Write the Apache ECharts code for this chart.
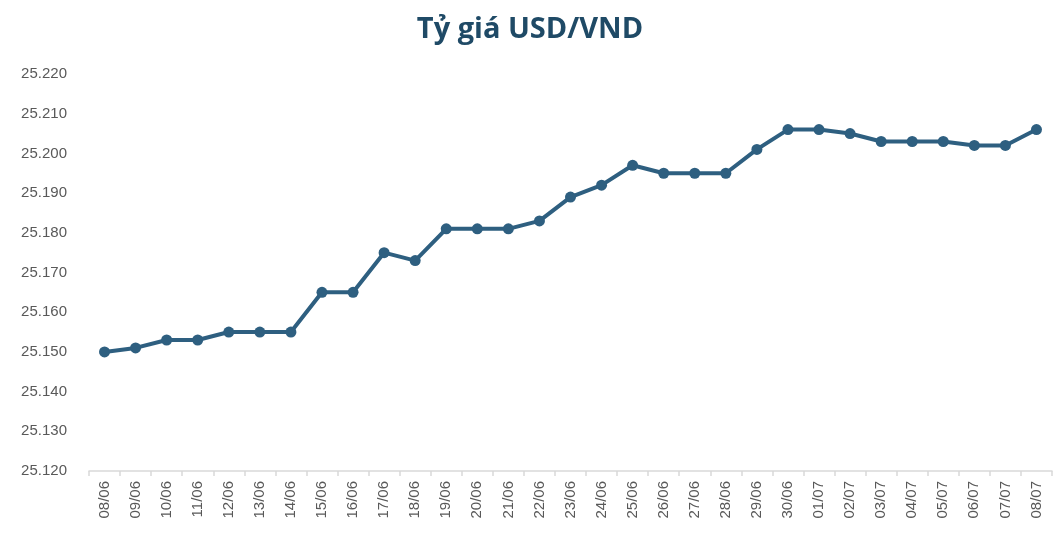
<!DOCTYPE html>
<html><head><meta charset="utf-8">
<script src="https://cdn.jsdelivr.net/npm/echarts@6/dist/echarts.min.js"></script>
<style>html,body{margin:0;padding:0;background:#fff}#c{width:1060px;height:546px}</style>
</head><body><div id="c"></div>
<script>
const categories = ["08/06","09/06","10/06","11/06","12/06","13/06","14/06","15/06","16/06","17/06","18/06","19/06","20/06","21/06","22/06","23/06","24/06","25/06","26/06","27/06","28/06","29/06","30/06","01/07","02/07","03/07","04/07","05/07","06/07","07/07","08/07"];
const rates = [25150,25151,25153,25153,25155,25155,25155,25165,25165,25175,25173,25181,25181,25181,25183,25189,25192,25197,25195,25195,25195,25201,25206,25206,25205,25203,25203,25203,25202,25202,25206];
const yMin = 25120, yMax = 25220, yStep = 10;

function fmt(v){ const s=String(Math.round(v)); return s.replace(/\B(?=(\d{3})+(?!\d))/g,'.'); }

const chart = echarts.init(document.getElementById('c'));
chart.setOption({
  animation:false,
  title:{text:'Tỷ giá USD/VND',left:'center',top:10,textStyle:{fontFamily:'Open Sans',fontWeight:'bold',fontSize:29,color:'#1f4a66'}},
  grid:{left:89,right:8,top:74,bottom:75},
  xAxis:{type:'category',data:categories,boundaryGap:true,
    axisLine:{lineStyle:{color:'#d9d9d9',width:1.5}},
    axisTick:{show:true,alignWithLabel:false,length:5,lineStyle:{color:'#d9d9d9',width:1.5}},
    axisLabel:{rotate:90,interval:0,margin:10,color:'#595959',fontSize:15,fontFamily:'Liberation Sans'}},
  yAxis:{type:'value',min:yMin,max:yMax,interval:yStep,
    splitLine:{show:false},axisLine:{show:false},axisTick:{show:false},
    axisLabel:{margin:22,color:'#595959',fontSize:15,fontFamily:'Liberation Sans',formatter:fmt}},
  series:[{type:'line',data:rates,symbol:'circle',symbolSize:11,
    lineStyle:{color:'#2e5f80',width:4},itemStyle:{color:'#2e5f80'}}]
});
</script></body></html>
